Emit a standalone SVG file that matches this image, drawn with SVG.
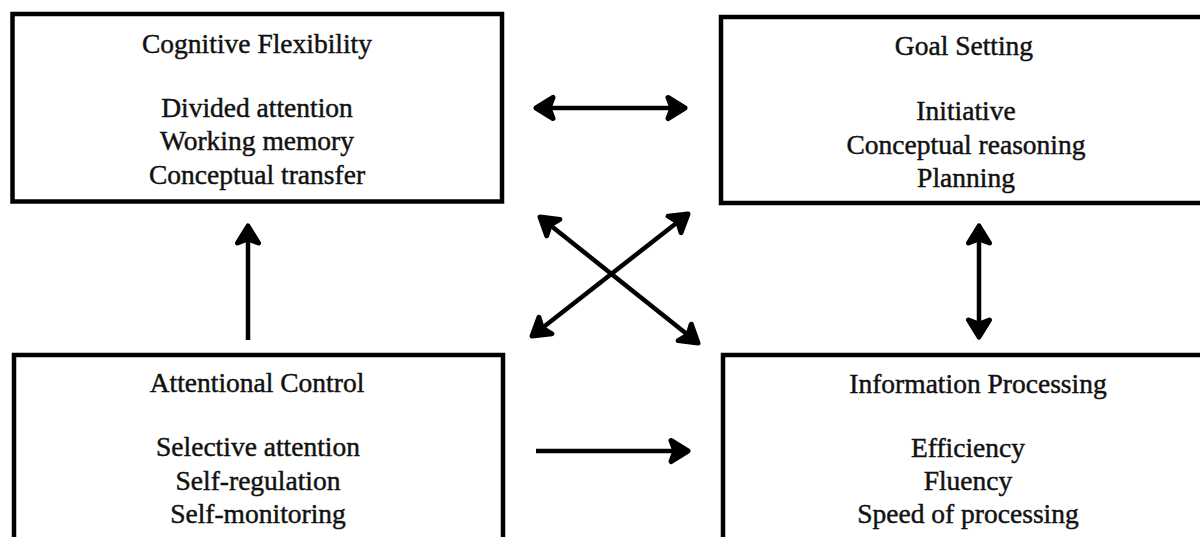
<svg xmlns="http://www.w3.org/2000/svg" width="1200" height="537" viewBox="0 0 1200 537">
<style>
.box{fill:#fff;stroke:#000;stroke-width:4.5}
.t{font-family:"Liberation Serif","Times New Roman",serif;font-size:27.5px;fill:#111;stroke:#111;stroke-width:0.45;text-anchor:middle}
.c{stroke:#000;stroke-width:4.5;fill:none}
</style>
<defs>
<marker id="ah" markerUnits="userSpaceOnUse" viewBox="-24 -14 28 28" refX="0" refY="0" markerWidth="28" markerHeight="28" orient="auto-start-reverse">
<path d="M-17,-10.5 L0,0 L-17,10.5 L-13,0 Z" fill="#000" stroke="#000" stroke-width="5" stroke-linejoin="round"/>
</marker>
</defs>
<rect width="1200" height="537" fill="#fff"/>
<g id="cognitive-flexibility">
<rect class="box" x="12.5" y="14" width="489.5" height="187.5"/>
<text class="t" x="257" y="53">Cognitive Flexibility</text>
<text class="t" x="257" y="116.5">Divided attention</text>
<text class="t" x="257" y="150">Working memory</text>
<text class="t" x="257" y="183.5">Conceptual transfer</text>
</g>
<g id="goal-setting">
<rect class="box" x="721" y="17" width="500" height="186"/>
<text class="t" x="964" y="55">Goal Setting</text>
<text class="t" x="966" y="120">Initiative</text>
<text class="t" x="966" y="153.5">Conceptual reasoning</text>
<text class="t" x="966" y="187">Planning</text>
</g>
<g id="attentional-control">
<rect class="box" x="14" y="355" width="489" height="200"/>
<text class="t" x="257" y="392">Attentional Control</text>
<text class="t" x="258" y="456">Selective attention</text>
<text class="t" x="258" y="490">Self-regulation</text>
<text class="t" x="258" y="523">Self-monitoring</text>
</g>
<g id="information-processing">
<rect class="box" x="723" y="355" width="500" height="200"/>
<text class="t" x="978" y="393">Information Processing</text>
<text class="t" x="968" y="457">Efficiency</text>
<text class="t" x="968" y="490">Fluency</text>
<text class="t" x="968" y="523">Speed of processing</text>
</g>
<g id="connectors">
<line class="c" x1="536" y1="108" x2="685" y2="108" marker-start="url(#ah)" marker-end="url(#ah)"/>
<line class="c" x1="540" y1="217" x2="698" y2="343" marker-start="url(#ah)" marker-end="url(#ah)"/>
<line class="c" x1="688" y1="214" x2="532" y2="336" marker-start="url(#ah)" marker-end="url(#ah)"/>
<line class="c" x1="248" y1="340" x2="248" y2="226" marker-end="url(#ah)"/>
<line class="c" x1="979" y1="226" x2="979" y2="337" marker-start="url(#ah)" marker-end="url(#ah)"/>
<line class="c" x1="536" y1="451" x2="688" y2="451" marker-end="url(#ah)"/>
</g>
</svg>
